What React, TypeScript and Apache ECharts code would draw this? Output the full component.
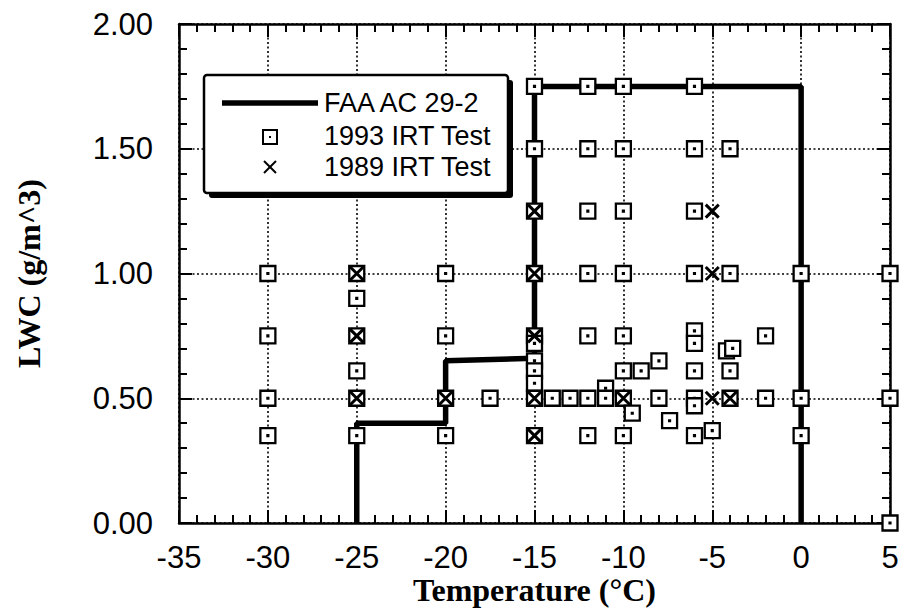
import React, { useEffect, useRef } from "react";
import * as echarts from "echarts";

// FAA AC 29-2 envelope (temperature °C, LWC g/m^3)
const faaTemp = [-25, -25, -20, -20, -15, -15, 0, 0];
const faaLwc = [0, 0.4, 0.4, 0.65, 0.66, 1.75, 1.75, 0];

// 1993 IRT Test points
const irt1993Temp = [
  -30, -30, -30, -30,
  -25, -25, -25, -25, -25, -25,
  -20, -20, -20, -20,
  -17.5,
  -15, -15, -15, -15, -15, -15, -15, -15, -15, -15, -15,
  -14, -13,
  -12, -12, -12, -12, -12, -12, -12,
  -11, -11,
  -10, -10, -10, -10, -10, -10, -10, -10,
  -9.5, -9, -8, -8, -7.4,
  -6, -6, -6, -6, -6, -6, -6, -6, -6, -6,
  -5, -4.2, -3.85,
  -4, -4, -4, -4,
  -2, -2,
  0, 0, 0,
  5, 5, 5,
];
const irt1993Lwc = [
  1.0, 0.75, 0.5, 0.35,
  1.0, 0.9, 0.75, 0.61, 0.5, 0.35,
  1.0, 0.75, 0.5, 0.35,
  0.5,
  1.75, 1.5, 1.25, 1.0, 0.75, 0.72, 0.65, 0.61, 0.56, 0.5, 0.35,
  0.5, 0.5,
  1.75, 1.5, 1.25, 1.0, 0.75, 0.5, 0.35,
  0.54, 0.5,
  1.75, 1.5, 1.25, 1.0, 0.75, 0.61, 0.5, 0.35,
  0.44, 0.61, 0.65, 0.5, 0.41,
  1.75, 1.5, 1.25, 1.0, 0.77, 0.72, 0.61, 0.5, 0.47, 0.35,
  0.37, 0.69, 0.7,
  1.5, 1.0, 0.61, 0.5,
  0.75, 0.5,
  1.0, 0.5, 0.35,
  1.0, 0.5, 0.0,
];

// 1989 IRT Test points
const irt1989Temp = [-25, -25, -25, -20, -15, -15, -15, -15, -15, -10, -5, -5, -5, -4];
const irt1989Lwc = [1.0, 0.75, 0.5, 0.5, 1.25, 1.0, 0.75, 0.5, 0.35, 0.5, 1.25, 1.0, 0.5, 0.5];

const legendNames = ["FAA AC 29-2", "1993 IRT Test", "1989 IRT Test"];

const SQUARE = "path://M0,0H14V14H0Z M6.6,6.6H7.4V7.4H6.6Z";
const CROSS = "path://M0,0L12,12M12,0L0,12";

const zip = (a: number[], b: number[]) => a.map((v, i) => [v, b[i]]);

export default function App() {
  const ref = useRef<HTMLDivElement>(null);
  useEffect(() => {
    if (!ref.current) return;
    const chart = echarts.init(ref.current, undefined, { renderer: "svg" });
    const labelFont = { fontFamily: "Liberation Sans, Arial, sans-serif", fontSize: 31, color: "#000" };
    const nameFont = { fontFamily: "Liberation Serif, Times New Roman, serif", fontWeight: "bold" as const, fontSize: 32, color: "#000" };
    const axisLine = { show: true, onZero: false, lineStyle: { color: "#000", width: 2.5 } };
    const tick = { show: true, inside: true, length: 13, lineStyle: { color: "#000", width: 2 } };
    const minorTick = { show: true, splitNumber: 5, length: 8, lineStyle: { color: "#000", width: 2 } };
    const split = { show: true, lineStyle: { color: "#000", width: 1.6, type: [2, 2.5] as any } };

    chart.setOption({
      animation: false,
      backgroundColor: "#fff",
      grid: { left: 179, right: 11, top: 24, bottom: 90, containLabel: false, outerBoundsMode: "none" },
      xAxis: [
        {
          type: "value", min: -35, max: 5, interval: 5, position: "bottom",
          axisLine, axisTick: tick, minorTick, splitLine: split,
          axisLabel: { ...labelFont, margin: 19 },
          name: "Temperature (°C)", nameLocation: "middle", nameGap: 51, nameMoveOverlap: false, nameTextStyle: nameFont,
        },
        {
          type: "value", min: -35, max: 5, interval: 5, position: "top",
          axisLine, axisTick: tick, minorTick, splitLine: { show: false }, axisLabel: { show: false },
        },
      ],
      yAxis: [
        {
          type: "value", min: 0, max: 2, interval: 0.5, position: "left",
          axisLine, axisTick: tick, minorTick, splitLine: split,
          axisLabel: { ...labelFont, margin: 26, formatter: (v: number) => v.toFixed(2) },
          name: "LWC (g/m^3)", nameLocation: "middle", nameGap: 134, nameRotate: 90, nameMoveOverlap: false, nameTextStyle: nameFont,
        },
        {
          type: "value", min: 0, max: 2, interval: 0.5, position: "right",
          axisLine, axisTick: tick, minorTick, splitLine: { show: false }, axisLabel: { show: false },
        },
      ],
      series: [
        {
          name: legendNames[0], type: "line", data: zip(faaTemp, faaLwc), showSymbol: false, symbol: "none",
          lineStyle: { color: "#000", width: 5.5 }, z: 2,
        },
        {
          name: legendNames[1], type: "scatter", data: zip(irt1993Temp, irt1993Lwc), symbol: SQUARE, symbolSize: 15,
          itemStyle: { color: "#fff", borderColor: "#000", borderWidth: 2.3, opacity: 1 }, z: 3,
        },
        {
          name: legendNames[2], type: "scatter", data: zip(irt1989Temp, irt1989Lwc), symbol: CROSS, symbolSize: 13,
          itemStyle: { color: "transparent", borderColor: "#000", borderWidth: 3, opacity: 1 }, z: 4,
        },
      ],
      graphic: [
        { type: "rect", z: 100, shape: { x: 209, y: 80, width: 304, height: 118, r: 3 }, style: { fill: "#000" } },
        { type: "rect", z: 101, shape: { x: 204, y: 75, width: 304, height: 118, r: 3 }, style: { fill: "#fff", stroke: "#000", lineWidth: 2.5 } },
        { type: "line", z: 102, shape: { x1: 222, y1: 103, x2: 318, y2: 103 }, style: { stroke: "#000", lineWidth: 5.5 } },
        { type: "text", z: 102, x: 324, y: 103, style: { text: legendNames[0], fill: "#000", font: "27px Liberation Sans, Arial, sans-serif", verticalAlign: "middle" } },
        { type: "rect", z: 102, shape: { x: 263, y: 130, width: 14, height: 14 }, style: { fill: "#fff", stroke: "#000", lineWidth: 2 } },
        { type: "rect", z: 103, shape: { x: 269, y: 136, width: 2, height: 2 }, style: { fill: "#000" } },
        { type: "text", z: 102, x: 324, y: 136, style: { text: legendNames[1], fill: "#000", font: "27px Liberation Sans, Arial, sans-serif", verticalAlign: "middle" } },
        { type: "line", z: 102, shape: { x1: 264, y1: 161, x2: 276, y2: 173 }, style: { stroke: "#000", lineWidth: 2 } },
        { type: "line", z: 102, shape: { x1: 276, y1: 161, x2: 264, y2: 173 }, style: { stroke: "#000", lineWidth: 2 } },
        { type: "text", z: 102, x: 324, y: 167, style: { text: legendNames[2], fill: "#000", font: "27px Liberation Sans, Arial, sans-serif", verticalAlign: "middle" } },
      ],
    });
    return () => chart.dispose();
  }, []);
  return <div ref={ref} style={{ position: "fixed", left: 0, top: 0, width: 901, height: 613 }} />;
}
